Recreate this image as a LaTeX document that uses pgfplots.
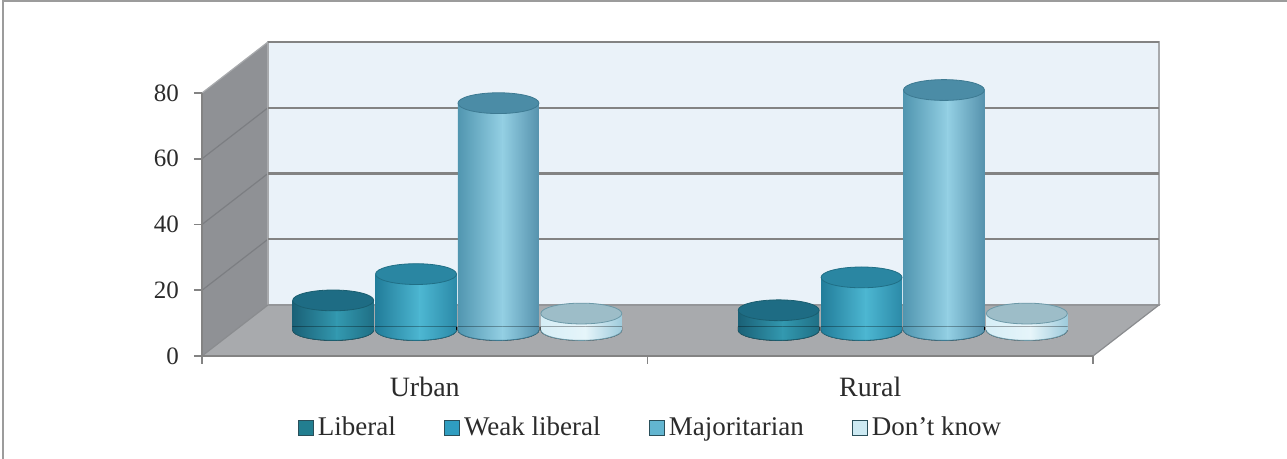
\documentclass[border=0pt]{standalone}
\usepackage{fontspec}
\setmainfont{Liberation Serif}
\usepackage{pgfplots}
\pgfplotsset{compat=1.18}
\usepackage{pgfplotstable}

\definecolor{libL}{HTML}{1A6177}
\definecolor{libM}{HTML}{3399B0}
\definecolor{libR}{HTML}{1F6F85}
\definecolor{libT}{HTML}{1E6C84}
\definecolor{libE}{HTML}{1A5E70}
\definecolor{weakL}{HTML}{227D9A}
\definecolor{weakM}{HTML}{4DB7D2}
\definecolor{weakR}{HTML}{2B8AA8}
\definecolor{weakT}{HTML}{2A86A2}
\definecolor{weakE}{HTML}{206F86}
\definecolor{majL}{HTML}{5196B0}
\definecolor{majM}{HTML}{94D0E4}
\definecolor{majR}{HTML}{5692AD}
\definecolor{majT}{HTML}{4B8CA6}
\definecolor{majE}{HTML}{3D7A92}
\definecolor{dkL}{HTML}{D6EEF6}
\definecolor{dkM}{HTML}{E6F5FA}
\definecolor{dkR}{HTML}{9ECBDC}
\definecolor{dkT}{HTML}{9DBDC8}
\definecolor{dkE}{HTML}{6C99A8}
\definecolor{legLib}{HTML}{227E90}
\definecolor{legWeak}{HTML}{2F9DC0}
\definecolor{legMaj}{HTML}{62B5D0}
\definecolor{legDK}{HTML}{CDEAF3}
\definecolor{legEdge}{HTML}{2A4F5A}
\definecolor{wallblue}{HTML}{EAF2F9}
\definecolor{wallline}{HTML}{A8AAAD}
\definecolor{gridgray}{HTML}{838383}
\definecolor{sidegray}{HTML}{8F9195}
\definecolor{sideline}{HTML}{7C7E82}
\definecolor{floorgray}{HTML}{A8AAAD}
\definecolor{floorline}{HTML}{8A8C8F}
\definecolor{framegray}{HTML}{9C9C9C}
\definecolor{textgray}{HTML}{2B2B2B}

\pgfdeclareplotmark{cyltop}{%
  \pgfpathellipse{\pgfpointorigin}{\pgfqpoint{20.25pt}{0pt}}{\pgfqpoint{0pt}{5.2pt}}%
  \pgfusepathqfillstroke}
\newcommand{\cylbottom}[4]{%
  \begin{scope}
  \clip (-20.25pt,1.5pt) -- (-20.25pt,0pt) arc[start angle=180, end angle=360, x radius=20.25pt, y radius=5.2pt] -- (20.25pt,1.5pt) -- cycle;
  \shade[draw=none, left color=#1, right color=#2] (-20.3pt,-6pt) rectangle (2.25pt,1.5pt);
  \shade[draw=none, left color=#2, right color=#3] (1.75pt,-6pt) rectangle (20.3pt,1.5pt);
  \end{scope}
  \draw[#4, line width=0.4pt] (-20.25pt,0pt) arc[start angle=180, end angle=360, x radius=20.25pt, y radius=5.2pt];}
\pgfdeclareplotmark{botLib}{\cylbottom{libL}{libM}{libR}{libE}}
\pgfdeclareplotmark{botWeak}{\cylbottom{weakL}{weakM}{weakR}{weakE}}
\pgfdeclareplotmark{botMaj}{\cylbottom{majL}{majM}{majR}{majE}}
\pgfdeclareplotmark{botDK}{\cylbottom{dkL}{dkM}{dkR}{dkE}}

% g = group position (0.5 = Urban, 1.5 = Rural), v = value
\pgfplotstableread{
g v
0.5 9
1.5 6
}\tabLib
\pgfplotstableread{
g v
0.5 17
1.5 16
}\tabWeak
\pgfplotstableread{
g v
0.5 69
1.5 73
}\tabMaj
\pgfplotstableread{
g v
0.5 5
1.5 5
}\tabDK

\pgfplotsset{
  cylleft/.style 2 args={ybar, bar width=22.5pt, bar shift=-9pt, draw=none, left color=#1, right color=#2},
  cylright/.style 2 args={ybar, bar width=18.5pt, bar shift=11pt, draw=none, left color=#1, right color=#2},
  urban/.style={restrict x to domain=0:1},
  rural/.style={restrict x to domain=1:2},
}

\begin{document}
\begin{tikzpicture}
\begin{axis}[
  at={(0pt,0pt)}, anchor=south west, scale only axis,
  x=222.75pt, y=1.64375pt,
  xmin=0, xmax=2, ymin=0, ymax=80,
  axis lines*=left, clip=false, axis on top,
  axis line style={draw=gridgray, line width=1pt, -},
  ytick={0,20,40,60,80},
  xtick={0,1,2}, xticklabels={},
  extra x ticks={0.5,1.5}, extra x tick labels={Urban,Rural},
  extra x tick style={major tick length=0pt, tick label style={font=\fontsize{14}{16}\selectfont, text=textgray, yshift=-7pt}},
  tick align=outside, major tick length=4pt,
  tick style={draw=gridgray, line width=0.8pt},
  yticklabel style={font=\fontsize{12.5}{14}\selectfont, text=textgray, xshift=-4pt},
  /pgf/number format/assume math mode=true,
  legend columns=4,
  legend style={at={(axis cs:1.009,-21.9)}, anchor=center, draw=none, fill=none,
    font=\fontsize{13.5}{16}\selectfont, text=textgray,
    /tikz/every even column/.append style={column sep=22pt}},
  legend image code/.code={\draw[#1] (0pt,-3.75pt) rectangle (7.5pt,3.75pt);},
]
% left side wall
\fill[sidegray] (axis cs:0,0) -- (axis cs:0,80) -- (axis cs:0.1481,95.51) -- (axis cs:0.1481,15.51) -- cycle;
\draw[sideline, line width=0.6pt] (axis cs:0,20) -- (axis cs:0.1481,35.51);
\draw[sideline, line width=0.6pt] (axis cs:0,40) -- (axis cs:0.1481,55.51);
\draw[sideline, line width=0.6pt] (axis cs:0,60) -- (axis cs:0.1481,75.51);
\draw[wallline, line width=0.6pt] (axis cs:0,80) -- (axis cs:0.1481,95.51);
% back wall
\filldraw[fill=wallblue, draw=wallline, line width=0.6pt] (axis cs:0.1481,15.51) rectangle (axis cs:2.1481,95.51);
\draw[gridgray, line width=1.1pt] (axis cs:0.1481,35.51) -- (axis cs:2.1481,35.51);
\draw[gridgray, line width=1.1pt] (axis cs:0.1481,55.51) -- (axis cs:2.1481,55.51);
\draw[gridgray, line width=1.1pt] (axis cs:0.1481,75.51) -- (axis cs:2.1481,75.51);
\draw[gridgray, line width=1.1pt] (axis cs:0.1481,95.51) -- (axis cs:2.1481,95.51);
% floor
\filldraw[fill=floorgray, draw=floorline, line width=0.6pt] (axis cs:0,0) -- (axis cs:2,0) -- (axis cs:2.1481,15.51) -- (axis cs:0.1481,15.51) -- cycle;
% legend
\addlegendimage{fill=legLib, draw=legEdge, line width=0.6pt}
\addlegendentry{Liberal}
\addlegendimage{fill=legWeak, draw=legEdge, line width=0.6pt}
\addlegendentry{Weak liberal}
\addlegendimage{fill=legMaj, draw=legEdge, line width=0.6pt}
\addlegendentry{Majoritarian}
\addlegendimage{fill=legDK, draw=legEdge, line width=0.6pt}
\addlegendentry{Don't know}
\end{axis}

\begin{axis}[
  at={(16.25pt,13pt)}, anchor=south west, scale only axis,
  x=222.75pt, y=1.64375pt,
  xmin=0, xmax=2, ymin=0, ymax=80,
  hide axis, clip=false,
]
% Liberal
\addplot[cylleft={libL}{libM}, urban] table[x expr=\thisrow{g}-0.2785, y=v] {\tabLib};
\addplot[cylright={libM}{libR}, urban] table[x expr=\thisrow{g}-0.2785, y=v] {\tabLib};
\addplot[cylleft={libL}{libM}, rural] table[x expr=\thisrow{g}-0.2785, y=v] {\tabLib};
\addplot[cylright={libM}{libR}, rural] table[x expr=\thisrow{g}-0.2785, y=v] {\tabLib};
\addplot[only marks, mark=botLib] table[x expr=\thisrow{g}-0.2785, y expr=0] {\tabLib};
\addplot[only marks, mark=cyltop, mark options={fill=libT, draw=libE, line width=0.4pt}] table[x expr=\thisrow{g}-0.2785, y=v] {\tabLib};
% Weak liberal
\addplot[cylleft={weakL}{weakM}, urban] table[x expr=\thisrow{g}-0.0925, y=v] {\tabWeak};
\addplot[cylright={weakM}{weakR}, urban] table[x expr=\thisrow{g}-0.0925, y=v] {\tabWeak};
\addplot[cylleft={weakL}{weakM}, rural] table[x expr=\thisrow{g}-0.0925, y=v] {\tabWeak};
\addplot[cylright={weakM}{weakR}, rural] table[x expr=\thisrow{g}-0.0925, y=v] {\tabWeak};
\addplot[only marks, mark=botWeak] table[x expr=\thisrow{g}-0.0925, y expr=0] {\tabWeak};
\addplot[only marks, mark=cyltop, mark options={fill=weakT, draw=weakE, line width=0.4pt}] table[x expr=\thisrow{g}-0.0925, y=v] {\tabWeak};
% Majoritarian
\addplot[cylleft={majL}{majM}, urban] table[x expr=\thisrow{g}+0.0925, y=v] {\tabMaj};
\addplot[cylright={majM}{majR}, urban] table[x expr=\thisrow{g}+0.0925, y=v] {\tabMaj};
\addplot[cylleft={majL}{majM}, rural] table[x expr=\thisrow{g}+0.0925, y=v] {\tabMaj};
\addplot[cylright={majM}{majR}, rural] table[x expr=\thisrow{g}+0.0925, y=v] {\tabMaj};
\addplot[only marks, mark=botMaj] table[x expr=\thisrow{g}+0.0925, y expr=0] {\tabMaj};
\addplot[only marks, mark=cyltop, mark options={fill=majT, draw=majE, line width=0.4pt}] table[x expr=\thisrow{g}+0.0925, y=v] {\tabMaj};
% Don't know
\addplot[cylleft={dkL}{dkM}, urban] table[x expr=\thisrow{g}+0.2785, y=v] {\tabDK};
\addplot[cylright={dkM}{dkR}, urban] table[x expr=\thisrow{g}+0.2785, y=v] {\tabDK};
\addplot[cylleft={dkL}{dkM}, rural] table[x expr=\thisrow{g}+0.2785, y=v] {\tabDK};
\addplot[cylright={dkM}{dkR}, rural] table[x expr=\thisrow{g}+0.2785, y=v] {\tabDK};
\addplot[only marks, mark=botDK] table[x expr=\thisrow{g}+0.2785, y expr=0] {\tabDK};
\addplot[only marks, mark=cyltop, mark options={fill=dkT, draw=dkE, line width=0.4pt}] table[x expr=\thisrow{g}+0.2785, y=v] {\tabDK};
\end{axis}

\draw[framegray, line width=0.8pt] (-99.5pt,-70pt) -- (-99.5pt,177.5pt) -- (600pt,177.5pt);
\pgfresetboundingbox
\path (-101pt,-51.5pt) rectangle (542.5pt,178pt);
\end{tikzpicture}
\end{document}
